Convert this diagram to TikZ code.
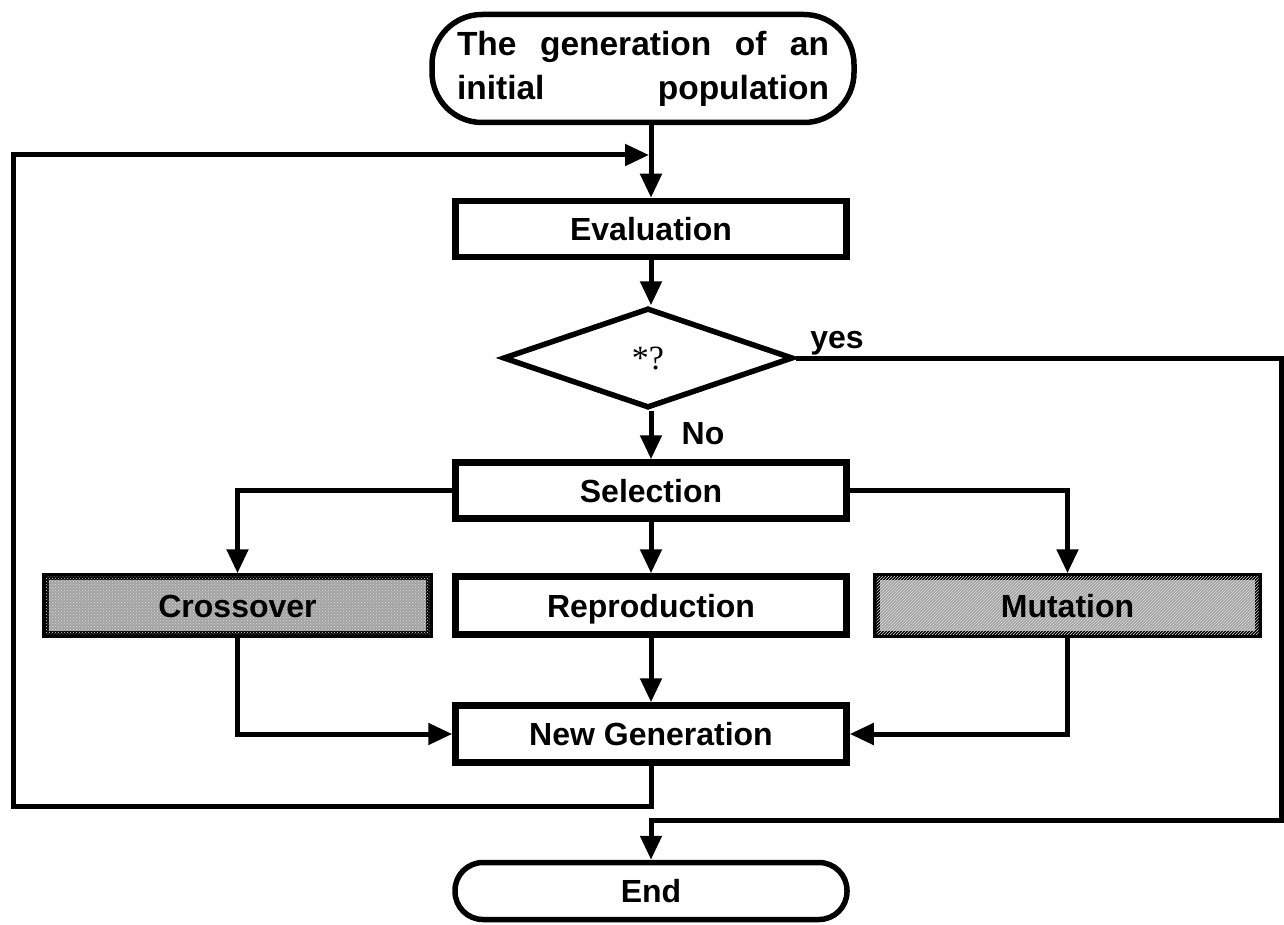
\documentclass[tikz,border=0pt]{standalone}
\usepackage{fontspec}
\setmainfont{Liberation Sans}
\newfontfamily\qserif{Liberation Serif}
\usetikzlibrary{arrows.meta,patterns,shapes.geometric}
\begin{document}
\begin{tikzpicture}[x=1pt,y=-1pt,
  boxtext/.style={font=\fontsize{32}{36}\selectfont\bfseries},
  box/.style={draw,line width=6.5pt,rectangle,inner sep=0pt,boxtext,
    text height=23pt,text depth=0pt,
    minimum width=391pt,minimum height=56pt},
  crossfill/.style={fill=gray!72,postaction={pattern=crosshatch dots,pattern color=gray!30}},
  mutfill/.style={fill=gray!72,postaction={pattern=north east lines,pattern color=gray!30}},
  arr/.style={line width=5pt,-{Triangle[length=24pt,width=21pt]}},
  lbl/.style={boxtext,inner sep=0pt}]
\useasboundingbox (0,0) rectangle (1284,925);
\fill[white] (0,0) rectangle (1284,925);

% nodes
\node[draw,line width=5.5pt,rounded corners=50pt,minimum width=422pt,minimum height=108pt,inner sep=0pt,
  font=\fontsize{33.5}{44}\selectfont\bfseries] (start) at (643,68.5)
  {\begin{tabular}{@{}p{372pt}@{}}The\hfill generation\hfill of\hfill an\\initial\hfill population\end{tabular}};
\node[box] (eval) at (651,229) {Evaluation};
\node[draw,line width=5.5pt,diamond,minimum width=290pt,minimum height=100pt,inner sep=0pt,
  font=\fontsize{34}{38}\selectfont\qserif] (dec) at (648,358) {*?};
\node[box] (sel) at (651,490.5) {Selection};
\node[box,crossfill,minimum width=384pt,minimum height=58pt] (cross) at (237.5,605.5) {Crossover};
\node[box,minimum height=58pt] (repro) at (651,605.5) {Reproduction};
\node[box,mutfill,minimum width=382pt,minimum height=58pt] (mut) at (1067.5,605.5) {Mutation};
\node[box,minimum height=57pt] (newgen) at (651,734) {New Generation};
\node[draw,line width=5.5pt,rounded corners=28pt,minimum width=392pt,minimum height=57pt,inner sep=0pt,
  boxtext,text height=23pt,text depth=0pt] (end) at (651,891) {End};

\node[lbl] (yes) at (837,343) {yes};
\node[lbl] (no) at (703,434) {No};

% coordinates
\coordinate (fbt) at (13,155);
\coordinate (fbb) at (13,806);
\coordinate (ycorner) at (1281,820);
\coordinate (fbtip) at (649,155);

% connectors
\draw[arr] (eval.north |- start.south) -- (eval.north);
\draw[arr] (newgen.south) -- (newgen.south |- fbb) -- (fbb) -- (fbt) -- (fbtip);
\draw[arr] (eval.south) -- (eval.south |- dec.north);
\draw[arr] (sel.north |- dec.south) -- (sel.north);
\draw[arr] (dec.east) -| (ycorner) -| (end.north);
\draw[arr] (sel.west) -| (cross.north);
\draw[arr] (sel.east) -| (mut.north);
\draw[arr] (sel.south) -- (repro.north);
\draw[arr] (repro.south) -- (newgen.north);
\draw[arr] (cross.south) |- (newgen.west);
\draw[arr] (mut.south) |- (newgen.east);
\end{tikzpicture}
\end{document}
